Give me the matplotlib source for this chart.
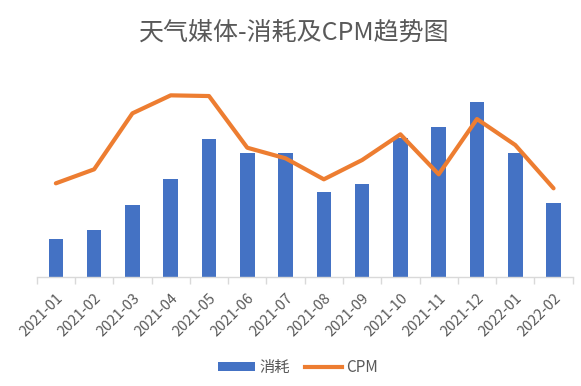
import matplotlib
matplotlib.use("Agg")
import matplotlib.pyplot as plt
import numpy as np
from matplotlib.patches import Patch
from matplotlib.lines import Line2D

plt.rcParams['font.family'] = ['Noto Sans CJK SC', 'DejaVu Sans']

months = ["2021-01", "2021-02", "2021-03", "2021-04", "2021-05", "2021-06", "2021-07",
          "2021-08", "2021-09", "2021-10", "2021-11", "2021-12", "2022-01", "2022-02"]
spend = [37.7, 47.0, 72.3, 98.0, 138.0, 123.7, 124.3, 85.0, 92.7, 138.7, 149.7, 175.3, 124.3, 74.3]
cpm = [93.7, 107.7, 163.7, 181.7, 181.0, 129.3, 118.7, 97.7, 117.0, 142.7, 102.7, 158.0, 132.0, 88.7]

BLUE = "#4472C4"
ORANGE = "#ED7D31"
GREY = "#595959"

fig = plt.figure(figsize=(5.81, 3.86), dpi=100)
ax = fig.add_axes([0.0632, 0.2824, 0.9225, 0.518])

x = np.arange(len(months))
ax.bar(x, spend, width=0.38, color=BLUE, zorder=2)
ax.plot(x, cpm, color=ORANGE, linewidth=3.0, solid_capstyle='round', solid_joinstyle='round', zorder=3)

ax.set_xlim(-0.5, len(months) - 0.5)
ax.set_ylim(0, 200)
for s in ["top", "right", "left"]:
    ax.spines[s].set_visible(False)
ax.spines["bottom"].set_color("#D9D9D9")
ax.spines["bottom"].set_linewidth(1.0)
ax.set_yticks([])

ax.set_xticks(x)
ax.set_xticklabels(months, rotation=45, ha='right', rotation_mode='anchor', fontsize=10.5, color=GREY)
ax.tick_params(axis='x', which='major', length=0, pad=10)
for lbl in ax.get_xticklabels():
    lbl.set_x(lbl.get_position()[0])
ax.set_xticks(np.arange(-0.5, len(months), 1.0), minor=True)
ax.tick_params(axis='x', which='minor', length=5, color="#D9D9D9", width=1.0)

fig.text(0.507, 0.915, "天气媒体-消耗及CPM趋势图", ha='center', va='center', fontsize=18, color=GREY)

handles = [Patch(facecolor=BLUE, edgecolor='none'), Line2D([0], [0], color=ORANGE, linewidth=3)]
fig.legend(handles, ["消耗", "CPM"], loc='center', bbox_to_anchor=(0.513, 0.048), ncol=2, frameon=False,
           fontsize=11, labelcolor=GREY, handlelength=2.4, handleheight=0.6, columnspacing=1.0, handletextpad=0.3)

fig.savefig("out.png", dpi=100)
